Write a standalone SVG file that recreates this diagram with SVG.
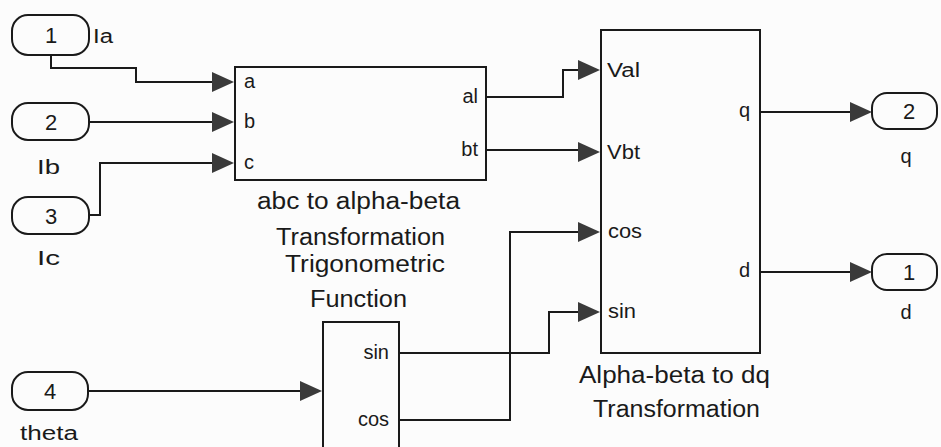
<svg xmlns="http://www.w3.org/2000/svg" width="941" height="447" viewBox="0 0 941 447">
<style>
.bg{fill:#fcfcfc}
.blk{fill:none;stroke:#1a1a1a;stroke-width:2}
.port{fill:none;stroke:#1a1a1a;stroke-width:2}
.wire{fill:none;stroke:#1a1a1a;stroke-width:2}
.arr{fill:#3a3a3a;stroke:none}
text{font-family:"Liberation Sans",Arial,sans-serif;fill:#1a1a1a}
.lbl{font-size:23px}
.pl{font-size:20px}
.num{font-size:22px;text-anchor:middle}
.mid{text-anchor:middle}
.end{text-anchor:end}
</style>
<defs>
<polygon id="ah" class="arr" points="-22,-10 -22,10 0,0"/>
</defs>
<rect class="bg" x="0" y="0" width="941" height="447"/>

<g id="connectors">
<path class="wire" d="M51,55 V68 H136 V82 H214"/>
<path class="wire" d="M89,122 H214"/>
<path class="wire" d="M89,215 H100 V163 H214"/>
<path class="wire" d="M88,391 H302"/>
<path class="wire" d="M486,97 H563 V70 H580"/>
<path class="wire" d="M486,150 H580"/>
<path class="wire" d="M399,353 H549 V312 H580"/>
<path class="wire" d="M399,420 H510 V232 H580"/>
<path class="wire" d="M760,112 H852"/>
<path class="wire" d="M760,272 H852"/>
<use href="#ah" x="234" y="82"/>
<use href="#ah" x="234" y="122"/>
<use href="#ah" x="234" y="163"/>
<use href="#ah" x="322" y="391"/>
<use href="#ah" x="600" y="70"/>
<use href="#ah" x="600" y="152"/>
<use href="#ah" x="600" y="232"/>
<use href="#ah" x="600" y="312"/>
<use href="#ah" x="872" y="112"/>
<use href="#ah" x="872" y="272"/>
</g>

<g id="in1">
<rect class="port" x="12" y="15" width="77" height="40" rx="16"/>
<text class="num" x="51" y="43">1</text>
<text class="pl" x="93" y="43" textLength="20" lengthAdjust="spacingAndGlyphs">Ia</text>
</g>
<g id="in2">
<rect class="port" x="12" y="103" width="77" height="37" rx="16"/>
<text class="num" x="51" y="130">2</text>
<text class="pl" x="37" y="174" textLength="23" lengthAdjust="spacingAndGlyphs">Ib</text>
</g>
<g id="in3">
<rect class="port" x="12" y="197" width="77" height="37" rx="16"/>
<text class="num" x="51" y="224">3</text>
<text class="pl" x="37" y="265" textLength="23" lengthAdjust="spacingAndGlyphs">Ic</text>
</g>
<g id="in4">
<rect class="port" x="12" y="372" width="76" height="38" rx="16"/>
<text class="num" x="50" y="399">4</text>
<text class="pl" x="20" y="440" textLength="58" lengthAdjust="spacingAndGlyphs">theta</text>
</g>

<g id="abc">
<rect class="blk" x="235" y="67" width="251" height="113"/>
<text class="pl" x="244" y="88">a</text>
<text class="pl" x="244" y="128">b</text>
<text class="pl" x="244" y="169">c</text>
<text class="pl end" x="478" y="103">al</text>
<text class="pl end" x="478" y="156">bt</text>
<text class="lbl" x="257" y="209" textLength="203" lengthAdjust="spacingAndGlyphs">abc to alpha-beta</text>
<text class="lbl" x="276" y="245" textLength="169" lengthAdjust="spacingAndGlyphs">Transformation</text>
</g>

<g id="trig">
<rect class="blk" x="323" y="322" width="76" height="140"/>
<text class="pl end" x="389" y="359">sin</text>
<text class="pl end" x="389" y="426">cos</text>
<text class="lbl" x="285" y="272" textLength="160" lengthAdjust="spacingAndGlyphs">Trigonometric</text>
<text class="lbl" x="310" y="307" textLength="97" lengthAdjust="spacingAndGlyphs">Function</text>
</g>

<g id="ab2dq">
<rect class="blk" x="601" y="30" width="159" height="323"/>
<text class="pl" x="607" y="77" textLength="33" lengthAdjust="spacingAndGlyphs">Val</text>
<text class="pl" x="607" y="159" textLength="33" lengthAdjust="spacingAndGlyphs">Vbt</text>
<text class="pl" x="608" y="238" textLength="34" lengthAdjust="spacingAndGlyphs">cos</text>
<text class="pl" x="608" y="318" textLength="28" lengthAdjust="spacingAndGlyphs">sin</text>
<text class="pl end" x="750" y="117">q</text>
<text class="pl end" x="750" y="277">d</text>
<text class="lbl" x="579" y="383" textLength="191" lengthAdjust="spacingAndGlyphs">Alpha-beta to dq</text>
<text class="lbl" x="593" y="417" textLength="167" lengthAdjust="spacingAndGlyphs">Transformation</text>
</g>

<g id="out2">
<rect class="port" x="872" y="93" width="65" height="36" rx="15"/>
<text class="num" x="909" y="119">2</text>
<text class="pl mid" x="906" y="163">q</text>
</g>
<g id="out1">
<rect class="port" x="872" y="254" width="65" height="36" rx="15"/>
<text class="num" x="909" y="280">1</text>
<text class="pl mid" x="906" y="319">d</text>
</g>
</svg>
